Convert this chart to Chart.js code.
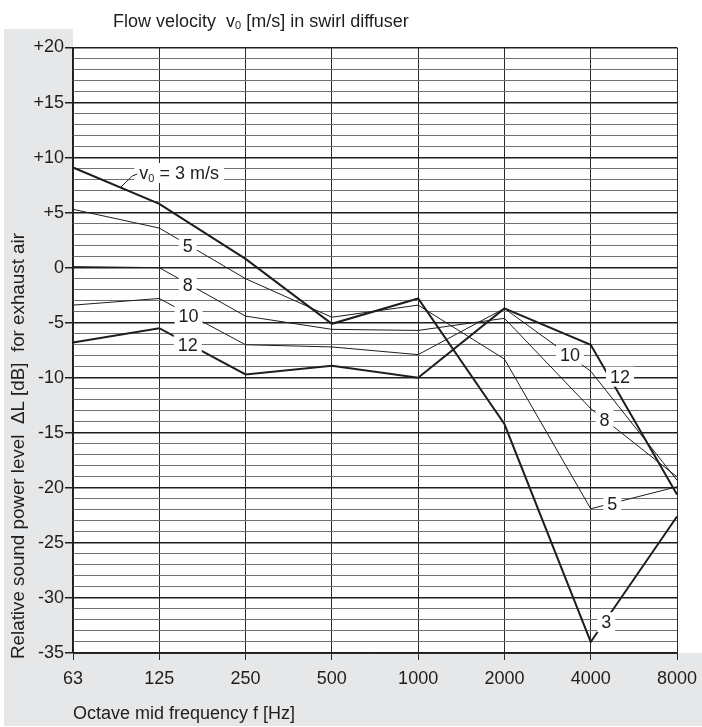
<!DOCTYPE html>
<html>
<head>
<meta charset="utf-8">
<script src="https://cdn.jsdelivr.net/npm/chart.js@4.4.1/dist/chart.umd.min.js"></script>
<style>
  body { margin: 0; background: #fff; }
  canvas { display: block; }
</style>
</head>
<body>
<canvas id="grafico" width="702" height="727"></canvas>
<script>
const grafico = document.getElementById("grafico")

// octave mid frequencies
let frequencias = ["63", "125", "250", "500", "1000", "2000", "4000", "8000"]

// relative sound power level dL [dB] per flow velocity v0
let v3 = [9.1, 5.8, 0.8, -5.1, -2.8, -14.2, -34.0, -22.6]
let v5 = [5.3, 3.6, -1.0, -4.5, -3.4, -8.3, -21.9, -19.9]
let v8 = [0.1, 0.0, -4.4, -5.6, -5.7, -4.6, -12.8, -19.0]
let v10 = [-3.4, -2.8, -7.0, -7.2, -7.9, -3.7, -9.4, -19.3]
let v12 = [-6.8, -5.5, -9.7, -8.9, -10.0, -3.7, -7.0, -20.6]

let yMin = -35
let yMax = 20

const fonte = "'Liberation Sans', Arial, sans-serif"
const tinta = '#1e1e1e'

// curve labels (x = category index, y = dB)
const rotulos = [
    { text: '5', x: 1.33, y: 2.0 },
    { text: '8', x: 1.33, y: -1.55 },
    { text: '10', x: 1.34, y: -4.35 },
    { text: '12', x: 1.33, y: -7.0 },
    { text: '10', x: 5.76, y: -7.9 },
    { text: '12', x: 6.34, y: -9.9 },
    { text: '8', x: 6.16, y: -13.8 },
    { text: '5', x: 6.25, y: -21.45 },
    { text: '3', x: 6.18, y: -32.2 }
]

function interp(serie, t) {
    const i = Math.min(Math.floor(t), serie.length - 2)
    const f = t - i
    return serie[i] + (serie[i + 1] - serie[i]) * f
}

const isMajor = v => Math.round(v) % 5 === 0

const fundo = {
    id: 'fundo',
    beforeDraw(chart) {
        const { ctx, chartArea: a, width, height } = chart
        ctx.save()
        ctx.fillStyle = '#fff'
        ctx.fillRect(0, 0, width, height)
        ctx.fillStyle = '#e6e7e8'
        ctx.fillRect(4, 29, a.left - 4, height - 30)
        ctx.fillRect(4, a.bottom, width - 4, height - 1 - a.bottom)
        ctx.fillStyle = '#fff'
        ctx.fillRect(a.left, a.top, a.right - a.left, a.bottom - a.top)
        ctx.restore()
    }
}

const textos = {
    id: 'textos',
    afterDatasetsDraw(chart) {
        const { ctx, scales: { x, y } } = chart
        ctx.save()
        ctx.font = '18px ' + fonte
        ctx.textBaseline = 'middle'
        ctx.textAlign = 'center'
        rotulos.forEach(r => {
            const px = x.getPixelForValue(r.x)
            const py = y.getPixelForValue(r.y)
            const w = ctx.measureText(r.text).width + 8
            ctx.fillStyle = '#fff'
            ctx.fillRect(px - w / 2, py - 10, w, 20)
            ctx.fillStyle = tinta
            ctx.fillText(r.text, px, py + 1)
        })

        // "v0 = 3 m/s" with leader line
        const lx = x.getPixelForValue(1.23)
        const ly = y.getPixelForValue(8.6)
        ctx.textAlign = 'left'
        const parte1 = 'v'
        const parte2 = ' = 3 m/s'
        ctx.font = '18px ' + fonte
        const w1 = ctx.measureText(parte1).width
        ctx.font = '11px ' + fonte
        const w0 = ctx.measureText('0').width
        ctx.font = '18px ' + fonte
        const w2 = ctx.measureText(parte2).width
        const total = w1 + w0 + w2
        const x0 = lx - total / 2
        ctx.fillStyle = '#fff'
        ctx.fillRect(x0 - 5, ly - 10, total + 10, 20)
        ctx.fillStyle = tinta
        ctx.fillText(parte1, x0, ly + 1)
        ctx.font = '11px ' + fonte
        ctx.fillText('0', x0 + w1, ly + 6)
        ctx.font = '18px ' + fonte
        ctx.fillText(parte2, x0 + w1 + w0, ly + 1)
        const alvoX = x.getPixelForValue(0.55)
        const alvoY = y.getPixelForValue(interp(v3, 0.55))
        ctx.strokeStyle = tinta
        ctx.lineWidth = 1
        ctx.beginPath()
        ctx.moveTo(x0 - 2, ly + 1)
        ctx.lineTo(x0 - 7, ly + 3)
        ctx.lineTo(alvoX, alvoY)
        ctx.stroke()
        ctx.restore()
    },
    afterDraw(chart) {
        const { ctx, chartArea: a } = chart
        ctx.save()
        ctx.fillStyle = tinta
        ctx.textBaseline = 'alphabetic'
        ctx.textAlign = 'left'

        // top title
        let tx = 113
        const ty = 27
        ctx.font = '18px ' + fonte
        const t1 = 'Flow velocity  v'
        ctx.fillText(t1, tx, ty)
        tx += ctx.measureText(t1).width
        ctx.font = '11px ' + fonte
        ctx.fillText('0', tx, ty + 2)
        tx += ctx.measureText('0').width
        ctx.font = '18px ' + fonte
        ctx.fillText(' [m/s] in swirl diffuser', tx, ty)

        // x title
        ctx.textBaseline = 'middle'
        ctx.fillText('Octave mid frequency f [Hz]', a.left, 714)

        // y title
        ctx.translate(19, 659)
        ctx.rotate(-Math.PI / 2)
        ctx.font = '18.8px ' + fonte
        ctx.fillText('Relative sound power level  \u0394L [dB]  for exhaust air', 0, 0)
        ctx.restore()
    }
}

function serie(label, data, grossa) {
    return {
        label: label,
        data: data,
        borderColor: tinta,
        borderWidth: grossa ? 2 : 1,
        pointRadius: 0,
        tension: 0,
        fill: false
    }
}

new Chart(grafico, {
    type: 'line',
    data: {
        labels: frequencias,
        datasets: [
            serie('3 m/s', v3, true),
            serie('5 m/s', v5, false),
            serie('8 m/s', v8, false),
            serie('10 m/s', v10, false),
            serie('12 m/s', v12, true)
        ]
    },
    options: {
        responsive: false,
        animation: false,
        devicePixelRatio: 1,
        layout: { padding: { top: 47.5, right: 25, left: 0, bottom: 0 } },
        plugins: {
            legend: { display: false },
            tooltip: { enabled: false }
        },
        scales: {
            x: {
                offset: false,
                grid: {
                    offset: false,
                    color: '#2a2a2a',
                    lineWidth: 1,
                    tickLength: 7,
                    tickColor: '#2a2a2a'
                },
                border: { color: '#2a2a2a', width: 1 },
                ticks: {
                    color: tinta,
                    font: { family: fonte, size: 18 },
                    padding: 8,
                    maxRotation: 0
                },
                afterFit(scale) {
                    scale.height = 74
                    scale.paddingLeft = 0
                    scale.paddingRight = 0
                }
            },
            y: {
                min: yMin,
                max: yMax,
                grid: {
                    color: c => isMajor(c.tick.value) ? '#1e1e1e' : '#707070',
                    lineWidth: c => isMajor(c.tick.value) ? 1.5 : 1,
                    tickLength: 8,
                    tickColor: c => isMajor(c.tick.value) ? '#1e1e1e' : 'rgba(0,0,0,0)'
                },
                border: { color: '#1e1e1e', width: 1.2 },
                ticks: {
                    stepSize: 1,
                    autoSkip: false,
                    color: tinta,
                    padding: 1,
                    font: { family: fonte, size: 18 },
                    callback: v => isMajor(v) ? (v > 0 ? '+' + v : String(v)) : ''
                },
                afterFit(scale) {
                    scale.width = 73
                    scale.paddingTop = 0
                    scale.paddingBottom = 0
                }
            }
        }
    },
    plugins: [fundo, textos]
});
</script>
</body>
</html>
